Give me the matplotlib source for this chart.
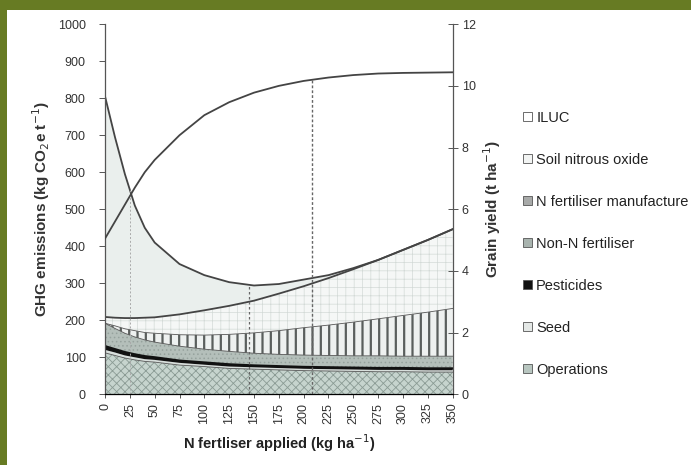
import matplotlib
matplotlib.use("Agg")
import matplotlib.pyplot as plt
from matplotlib.patches import Patch, Rectangle
import numpy as np

plt.rcParams['font.family'] = ['Liberation Sans', 'DejaVu Sans']
plt.rcParams['hatch.linewidth'] = 0.6

# N fertiliser applied (kg/ha)
n_rate = [0, 10, 20, 30, 40, 50, 75, 100, 125, 150, 175, 200, 225, 250, 275, 300, 325, 350]

# GHG emissions components (kg CO2e / t), bottom to top
operations = [112, 105, 98, 93, 89, 87, 79, 75, 70, 68, 66, 64, 63, 62, 61, 61, 60, 60]
seed       = [8, 8, 7, 7, 6, 6, 6, 5, 5, 5, 5, 5, 5, 5, 5, 5, 5, 5]
pesticides = [10, 9, 9, 8, 8, 7, 6, 6, 6, 5, 5, 5, 5, 5, 5, 5, 5, 5]
non_n_fert = [62, 56, 51, 47, 44, 41, 39, 36, 35, 33, 32, 32, 32, 32, 33, 32, 33, 33]
n_fert_man = [0, 7, 12, 17, 20, 24, 31, 38, 46, 55, 64, 74, 82, 91, 100, 110, 119, 129]
soil_n2o   = [17, 22, 29, 34, 40, 43, 55, 67, 77, 87, 100, 112, 127, 143, 159, 177, 195, 214]
iluc       = [596, 488, 389, 304, 243, 202, 136, 95, 64, 41, 26, 18, 8, 3, 0, 0, 0, 0]

# grain yield (t/ha), right axis
grain_yield = [5.05, 5.6, 6.15, 6.7, 7.2, 7.6, 8.4, 9.05, 9.47, 9.78, 10.0, 10.16,
               10.27, 10.35, 10.4, 10.42, 10.43, 10.44]

layer_names = ['Operations', 'Seed', 'Pesticides', 'Non-N fertiliser',
               'N fertiliser manufacture', 'Soil nitrous oxide', 'ILUC']
layer_faces = ['#c6d4ce', '#d8dfdc', '#111111', '#b4bfba', '#eef1f0', '#f5f7f6', '#eaefed']
layer_hatch = ['xxxx', '', '', '....', '||', '++', '']
layer_edges = ['#8a9b94', '#9aa5a0', '#111111', '#96a29d', '#5a5f5d', '#d3dad7', '#eaefed']
hatch_lw    = [0.6, 0.6, 0.6, 0.6, 1.6, 0.5, 0.6]
legend_faces = ['#b8c6c0', '#e4e8e6', '#111111', '#a9b4af', '#a8aaa9', '#f2f4f3', '#ffffff']

# N rates of the dashed marker lines
marker_rates = [25, 145, 208]

x = np.array(n_rate)
layers = [np.array(v) for v in [operations, seed, pesticides, non_n_fert,
                                 n_fert_man, soil_n2o, iluc]]
tops = np.cumsum(layers, axis=0)

fig = plt.figure(figsize=(6.91, 4.65), dpi=100)
fig.patch.set_facecolor('white')
ax = fig.add_axes([0.152, 0.152, 0.503, 0.796])

base = np.zeros(len(x))
for i in range(len(layers)):
    with plt.rc_context({'hatch.linewidth': hatch_lw[i]}):
        ax.fill_between(x, base, tops[i], facecolor=layer_faces[i],
                        edgecolor=layer_edges[i], hatch=layer_hatch[i], linewidth=0)
    base = tops[i]

# layer boundaries
for i in [0, 3, 4]:
    ax.plot(x, tops[i], color='#555555', lw=0.6)
ax.plot(x, tops[2], color='#111111', lw=1.6)
ax.plot(x, tops[5], color='#444444', lw=1.3)
ax.plot(x, tops[6], color='#444444', lw=1.3)

ax2 = ax.twinx()
ax2.plot(x, grain_yield, color='#444444', lw=1.3)
ax2.set_ylim(0, 12)

# dashed verticals
tot_25 = np.interp(marker_rates[0], x, tops[6])
tot_145 = np.interp(marker_rates[1], x, tops[6])
yld_208 = np.interp(marker_rates[2], x, grain_yield) * 1000 / 12
ax.plot([marker_rates[0]] * 2, [0, tot_25], color='#aaaaaa', lw=0.7, ls=(0, (2, 2)))
ax.plot([marker_rates[1]] * 2, [0, tot_145], color='#666666', lw=0.9, ls=(0, (2, 2)))
ax.plot([marker_rates[2]] * 2, [0, yld_208], color='#666666', lw=1.0, ls=(0, (2, 1.5)))

ax.set_xlim(0, 350)
ax.set_ylim(0, 1000)
ax.set_xticks(np.arange(0, 351, 25))
ax.set_xticklabels([str(v) for v in range(0, 351, 25)], rotation=90)
ax.set_yticks(np.arange(0, 1001, 100))
ax2.set_yticks(np.arange(0, 13, 2))

ax.spines['top'].set_visible(False)
ax2.spines['top'].set_visible(False)
ax2.spines['left'].set_visible(False)
ax.spines['right'].set_visible(False)
for sp in [ax.spines['left'], ax.spines['bottom'], ax2.spines['right']]:
    sp.set_color('#555555')
    sp.set_linewidth(0.9)

ax.tick_params(axis='y', direction='out', length=4, width=0.7, colors='#555555',
               labelcolor='#333333', labelsize=9, pad=10)
ax.tick_params(axis='x', direction='out', length=3, width=0.7, colors='#555555',
               labelcolor='#333333', labelsize=9, pad=3)
ax2.tick_params(axis='y', direction='inout', length=7, width=0.7, colors='#555555',
                labelcolor='#333333', labelsize=9, pad=3)

ax.set_ylabel('GHG emissions (kg CO$_2$e t$^{-1}$)', fontsize=11, fontweight='bold',
              color='#333333', labelpad=4)
ax.set_xlabel('N fertliser applied (kg ha$^{-1}$)', fontsize=10.5, fontweight='bold',
              color='#222222', labelpad=6)
ax2.set_ylabel('Grain yield (t ha$^{-1}$)', fontsize=11, fontweight='bold',
               color='#333333', rotation=90, labelpad=4)

# legend, top layer first
handles = []
for i in range(6, -1, -1):
    handles.append(Patch(facecolor=legend_faces[i], edgecolor='#555555', lw=0.6,
                         label=layer_names[i]))
fig.legend(handles=handles, loc='upper left', bbox_to_anchor=(0.757, 0.762),
           frameon=False, fontsize=10.5, handlelength=0.6, handleheight=0.6,
           handletextpad=0.3, labelspacing=1.92, borderpad=0, borderaxespad=0,
           labelcolor='#222222')

# green frame
fig.patches.append(Rectangle((0, 1 - 10 / 465), 1, 10 / 465, transform=fig.transFigure,
                             facecolor='#677b23', edgecolor='none', zorder=5))
fig.patches.append(Rectangle((0, 0), 7 / 691, 1, transform=fig.transFigure,
                             facecolor='#677b23', edgecolor='none', zorder=5))

fig.savefig('out.png', dpi=100)
